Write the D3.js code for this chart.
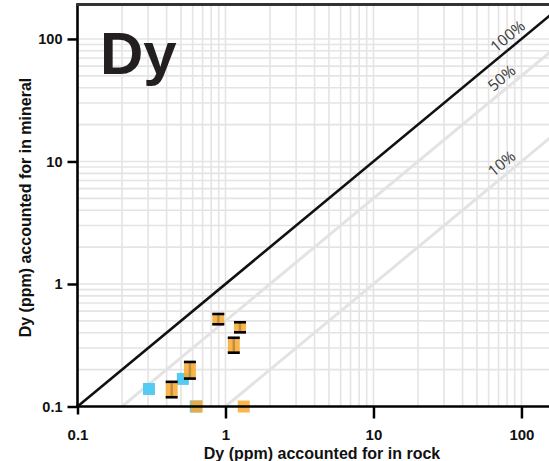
<!DOCTYPE html>
<html>
<head>
<meta charset="utf-8">
<script src="https://cdn.jsdelivr.net/npm/d3@7"></script>
<style>
  html, body { margin: 0; padding: 0; background: #fff; }
  svg { display: block; }
  .tick text { font-family: "Liberation Sans", Arial, Helvetica, sans-serif; font-weight: bold; fill: #111; }
</style>
</head>
<body>
<svg id="chart" width="549" height="461"></svg>
<script>
// Dy: amount accounted for in mineral vs. in bulk rock (ppm, log-log)
const xTickValues = [0.1, 1, 10, 100];
const yTickValues = [0.1, 1, 10, 100];
const xTickLabels = ["0.1", "1", "10", "100"];
const yTickLabels = ["0.1", "1", "10", "100"];

// mineral analyses with uncertainty (orange)
const rockOrange    = [0.894, 1.253, 1.138, 0.575, 0.433, 0.639, 1.329];
const mineralOrange = [0.516, 0.444, 0.317, 0.197, 0.138, 0.100, 0.100];
const errLow        = [0.469, 0.403, 0.275, 0.169, 0.119, null, null];
const errHigh       = [0.569, 0.487, 0.364, 0.231, 0.159, null, null];

// second population (blue)
const rockBlue    = [0.304, 0.515, 0.630];
const mineralBlue = [0.139, 0.168, 0.100];

// reference lines: fraction of rock budget hosted by the mineral
const refRatios = [1, 0.5, 0.1];
const refLabels = ["100%", "50%", "10%"];
const refLabelAt = [90, 82, 82];

const svg = d3.select("#chart");
const W = 549;
const plot = { left: 77.5, right: 566, top: 4.8, bottom: 406.5 };

const x = d3.scaleLog().domain([0.1, 200]).range([plot.left, plot.right]);
const y = d3.scaleLog().domain([0.1, 190]).range([plot.bottom, plot.top]);

svg.append("defs").append("clipPath").attr("id", "plotClip")
  .append("rect")
  .attr("x", plot.left).attr("y", plot.top)
  .attr("width", W - plot.left).attr("height", plot.bottom - plot.top);

const inner = svg.append("g").attr("clip-path", "url(#plotClip)");

// log grid: every 1..9 x 10^k
const gridVals = [];
for (let k = -1; k <= 2; k++) for (let m = 1; m <= 9; m++) gridVals.push(+(m * Math.pow(10, k)).toPrecision(3));
const gx = gridVals.filter(v => v > 0.1 && v <= 200);
const gy = gridVals.filter(v => v > 0.1 && v <= 190);

inner.append("g").selectAll("line").data(gx).join("line")
  .attr("x1", d => x(d)).attr("x2", d => x(d))
  .attr("y1", plot.top).attr("y2", plot.bottom)
  .attr("stroke", "#e4e4e4").attr("stroke-width", 1.6);
inner.append("g").selectAll("line").data(gy).join("line")
  .attr("y1", d => y(d)).attr("y2", d => y(d))
  .attr("x1", plot.left).attr("x2", plot.right)
  .attr("stroke", "#e4e4e4").attr("stroke-width", 1.6);

// reference lines (mineral = ratio * rock)
const refG = inner.append("g");
refRatios.forEach((r, i) => {
  const xs = [0.1 / r, 1000];
  refG.append("line")
    .attr("x1", x(xs[0])).attr("y1", y(xs[0] * r))
    .attr("x2", x(xs[1])).attr("y2", y(xs[1] * r))
    .attr("stroke", r === 1 ? "#111" : "#e3e3e3")
    .attr("stroke-width", r === 1 ? 2.6 : 3);
});

// labels rotated along the reference lines
const angle = Math.atan2(y(1) - y(10), x(10) - x(1)) * 180 / Math.PI;
refRatios.forEach((r, i) => {
  const lx = x(refLabelAt[i]), ly = y(refLabelAt[i] * r);
  svg.append("text")
    .attr("transform", `translate(${lx},${ly}) rotate(${-angle})`)
    .attr("dy", -5.5)
    .attr("text-anchor", "middle")
    .attr("font-family", "'Open Sans', 'DejaVu Sans', sans-serif")
    .attr("font-size", 15.5)
    .attr("fill", "#3a3a3a")
    .text(refLabels[i]);
});

// blue points
const sq = 12;
svg.append("g").selectAll("rect").data(rockBlue.map((v, i) => [v, mineralBlue[i]])).join("rect")
  .attr("x", d => x(d[0]) - sq / 2).attr("y", d => y(d[1]) - sq / 2)
  .attr("width", sq).attr("height", sq)
  .attr("fill", "#56cbf1");

// orange points with error bars
const orangeData = rockOrange.map((v, i) => ({ rx: v, my: mineralOrange[i], lo: errLow[i], hi: errHigh[i] }));
const og = svg.append("g").selectAll("g").data(orangeData).join("g");
og.append("rect")
  .attr("x", d => x(d.rx) - sq / 2)
  .attr("y", d => Math.min(y(d.my) - sq / 2, d.hi ? y(d.hi) : Infinity))
  .attr("width", sq)
  .attr("height", d => {
    const top = Math.min(y(d.my) - sq / 2, d.hi ? y(d.hi) : Infinity);
    const bot = Math.max(y(d.my) + sq / 2, d.lo ? y(d.lo) : -Infinity);
    return bot - top;
  })
  .attr("fill", "#f8a930").attr("fill-opacity", 0.85);
const eg = og.filter(d => d.lo != null);
eg.append("line")
  .attr("x1", d => x(d.rx)).attr("x2", d => x(d.rx))
  .attr("y1", d => y(d.lo)).attr("y2", d => y(d.hi))
  .attr("stroke", "#000").attr("stroke-opacity", 0.22).attr("stroke-width", 2.5);
["lo", "hi"].forEach(k => {
  eg.append("line")
    .attr("x1", d => x(d.rx) - sq / 2).attr("x2", d => x(d.rx) + sq / 2)
    .attr("y1", d => y(d[k])).attr("y2", d => y(d[k]))
    .attr("stroke", "#000").attr("stroke-width", 2.6);
});

// axes
const xAxis = svg.append("g").attr("transform", `translate(0,${plot.bottom})`)
  .call(d3.axisBottom(x).tickValues(xTickValues).tickFormat((d, i) => xTickLabels[i])
    .tickSize(12).tickSizeOuter(0).tickPadding(11));
xAxis.selectAll(".tick text").attr("font-size", 15);
xAxis.selectAll(".tick line").attr("stroke", "#000").attr("stroke-width", 2.5)
  .filter(d => d === 0.1).attr("y2", 8);

const yAxis = svg.append("g").attr("transform", `translate(${plot.left},0)`)
  .call(d3.axisLeft(y).tickValues(yTickValues).tickFormat((d, i) => yTickLabels[i])
    .tickSize(10).tickSizeOuter(0).tickPadding(5));
yAxis.selectAll(".tick text").attr("font-size", 14.5);
yAxis.selectAll(".tick line").attr("stroke", "#000").attr("stroke-width", 2.5);

[xAxis, yAxis].forEach(a => a.select(".domain").attr("stroke", "#000").attr("stroke-width", 2.6));
xAxis.select(".domain").attr("d", `M${plot.left - 1.3},0H${W}`);
yAxis.select(".domain").attr("d", `M0,${plot.bottom + 1.3}V${plot.top - 1}`);

// top frame
svg.append("line")
  .attr("x1", plot.left - 1.3).attr("x2", W)
  .attr("y1", plot.top - 0.3).attr("y2", plot.top - 0.3)
  .attr("stroke", "#333").attr("stroke-width", 3);

// axis titles
svg.append("text")
  .attr("x", 322).attr("y", 459)
  .attr("text-anchor", "middle")
  .attr("font-family", "'Liberation Sans', Arial, sans-serif")
  .attr("font-weight", "bold").attr("font-size", 16).attr("fill", "#111")
  .text("Dy (ppm) accounted for in rock");

svg.append("text")
  .attr("transform", "translate(31,207.5) rotate(-90)")
  .attr("text-anchor", "middle")
  .attr("font-family", "'Liberation Sans', Arial, sans-serif")
  .attr("font-weight", "bold").attr("font-size", 16).attr("fill", "#111")
  .text("Dy (ppm) accounted for in mineral");

// element label
svg.append("text")
  .attr("x", 100).attr("y", 73.5)
  .attr("font-family", "'Liberation Sans', Arial, sans-serif")
  .attr("font-weight", "bold").attr("font-size", 60).attr("fill", "#231f20")
  .text("Dy");
</script>
</body>
</html>
